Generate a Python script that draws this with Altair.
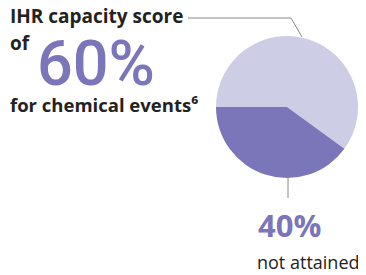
import altair as alt
import pandas as pd

categories = ["attained", "not attained"]
values = [60, 40]
colors = ["#cdcde6", "#7a76b9"]

df = pd.DataFrame({"category": categories, "value": values, "order": [0, 1]})

FONT = "Open Sans"
PURPLE = "#7a76b9"
DARK = "#222222"
GRAY = "#8a8a8a"

pie = alt.Chart(df).mark_arc(radius=71, stroke=None).encode(
    theta=alt.Theta("value:Q", stack=True, scale=alt.Scale(range=[4.71239, 10.99557])),
    color=alt.Color("category:N", scale=alt.Scale(domain=categories, range=colors), legend=None),
    order=alt.Order("order:Q"),
    x=alt.value(279),
    y=alt.value(99),
)

def txt(text, x, y, size, color=DARK, weight="bold", font=FONT):
    return alt.Chart(pd.DataFrame({"t": [text]})).mark_text(
        align="left", baseline="alphabetic", font=font, fontSize=size,
        fontWeight=weight, color=color
    ).encode(text="t:N", x=alt.value(x), y=alt.value(y))

def rule(x, y, x2, y2):
    return alt.Chart(pd.DataFrame({"a": [0]})).mark_rule(color=GRAY, strokeWidth=1).encode(
        x=alt.value(x), y=alt.value(y), x2=alt.value(x2), y2=alt.value(y2)
    )

layers = [
    rule(180, 10, 283, 10),
    rule(283, 10, 294, 29),
    rule(280, 170, 280, 190),
    pie,
    txt("IHR capacity score", 2, 15, 19),
    txt("of", 2, 42, 19),
    txt(f"{values[0]}%", 29, 77, 63, PURPLE, 500, "Roboto"),
    txt("for chemical events\u2076", 2, 104, 18.5),
    txt(f"{values[1]}%", 250, 229, 31, PURPLE, "bold"),
    txt("not attained", 249, 261, 18, DARK, "normal"),
]

chart = alt.layer(*layers).properties(
    width=350, height=262, autosize=alt.AutoSizeParams(type="none"), padding=0
).configure_view(stroke=None)

chart.save("out.html", embed_options={"renderer": "svg", "actions": False})
